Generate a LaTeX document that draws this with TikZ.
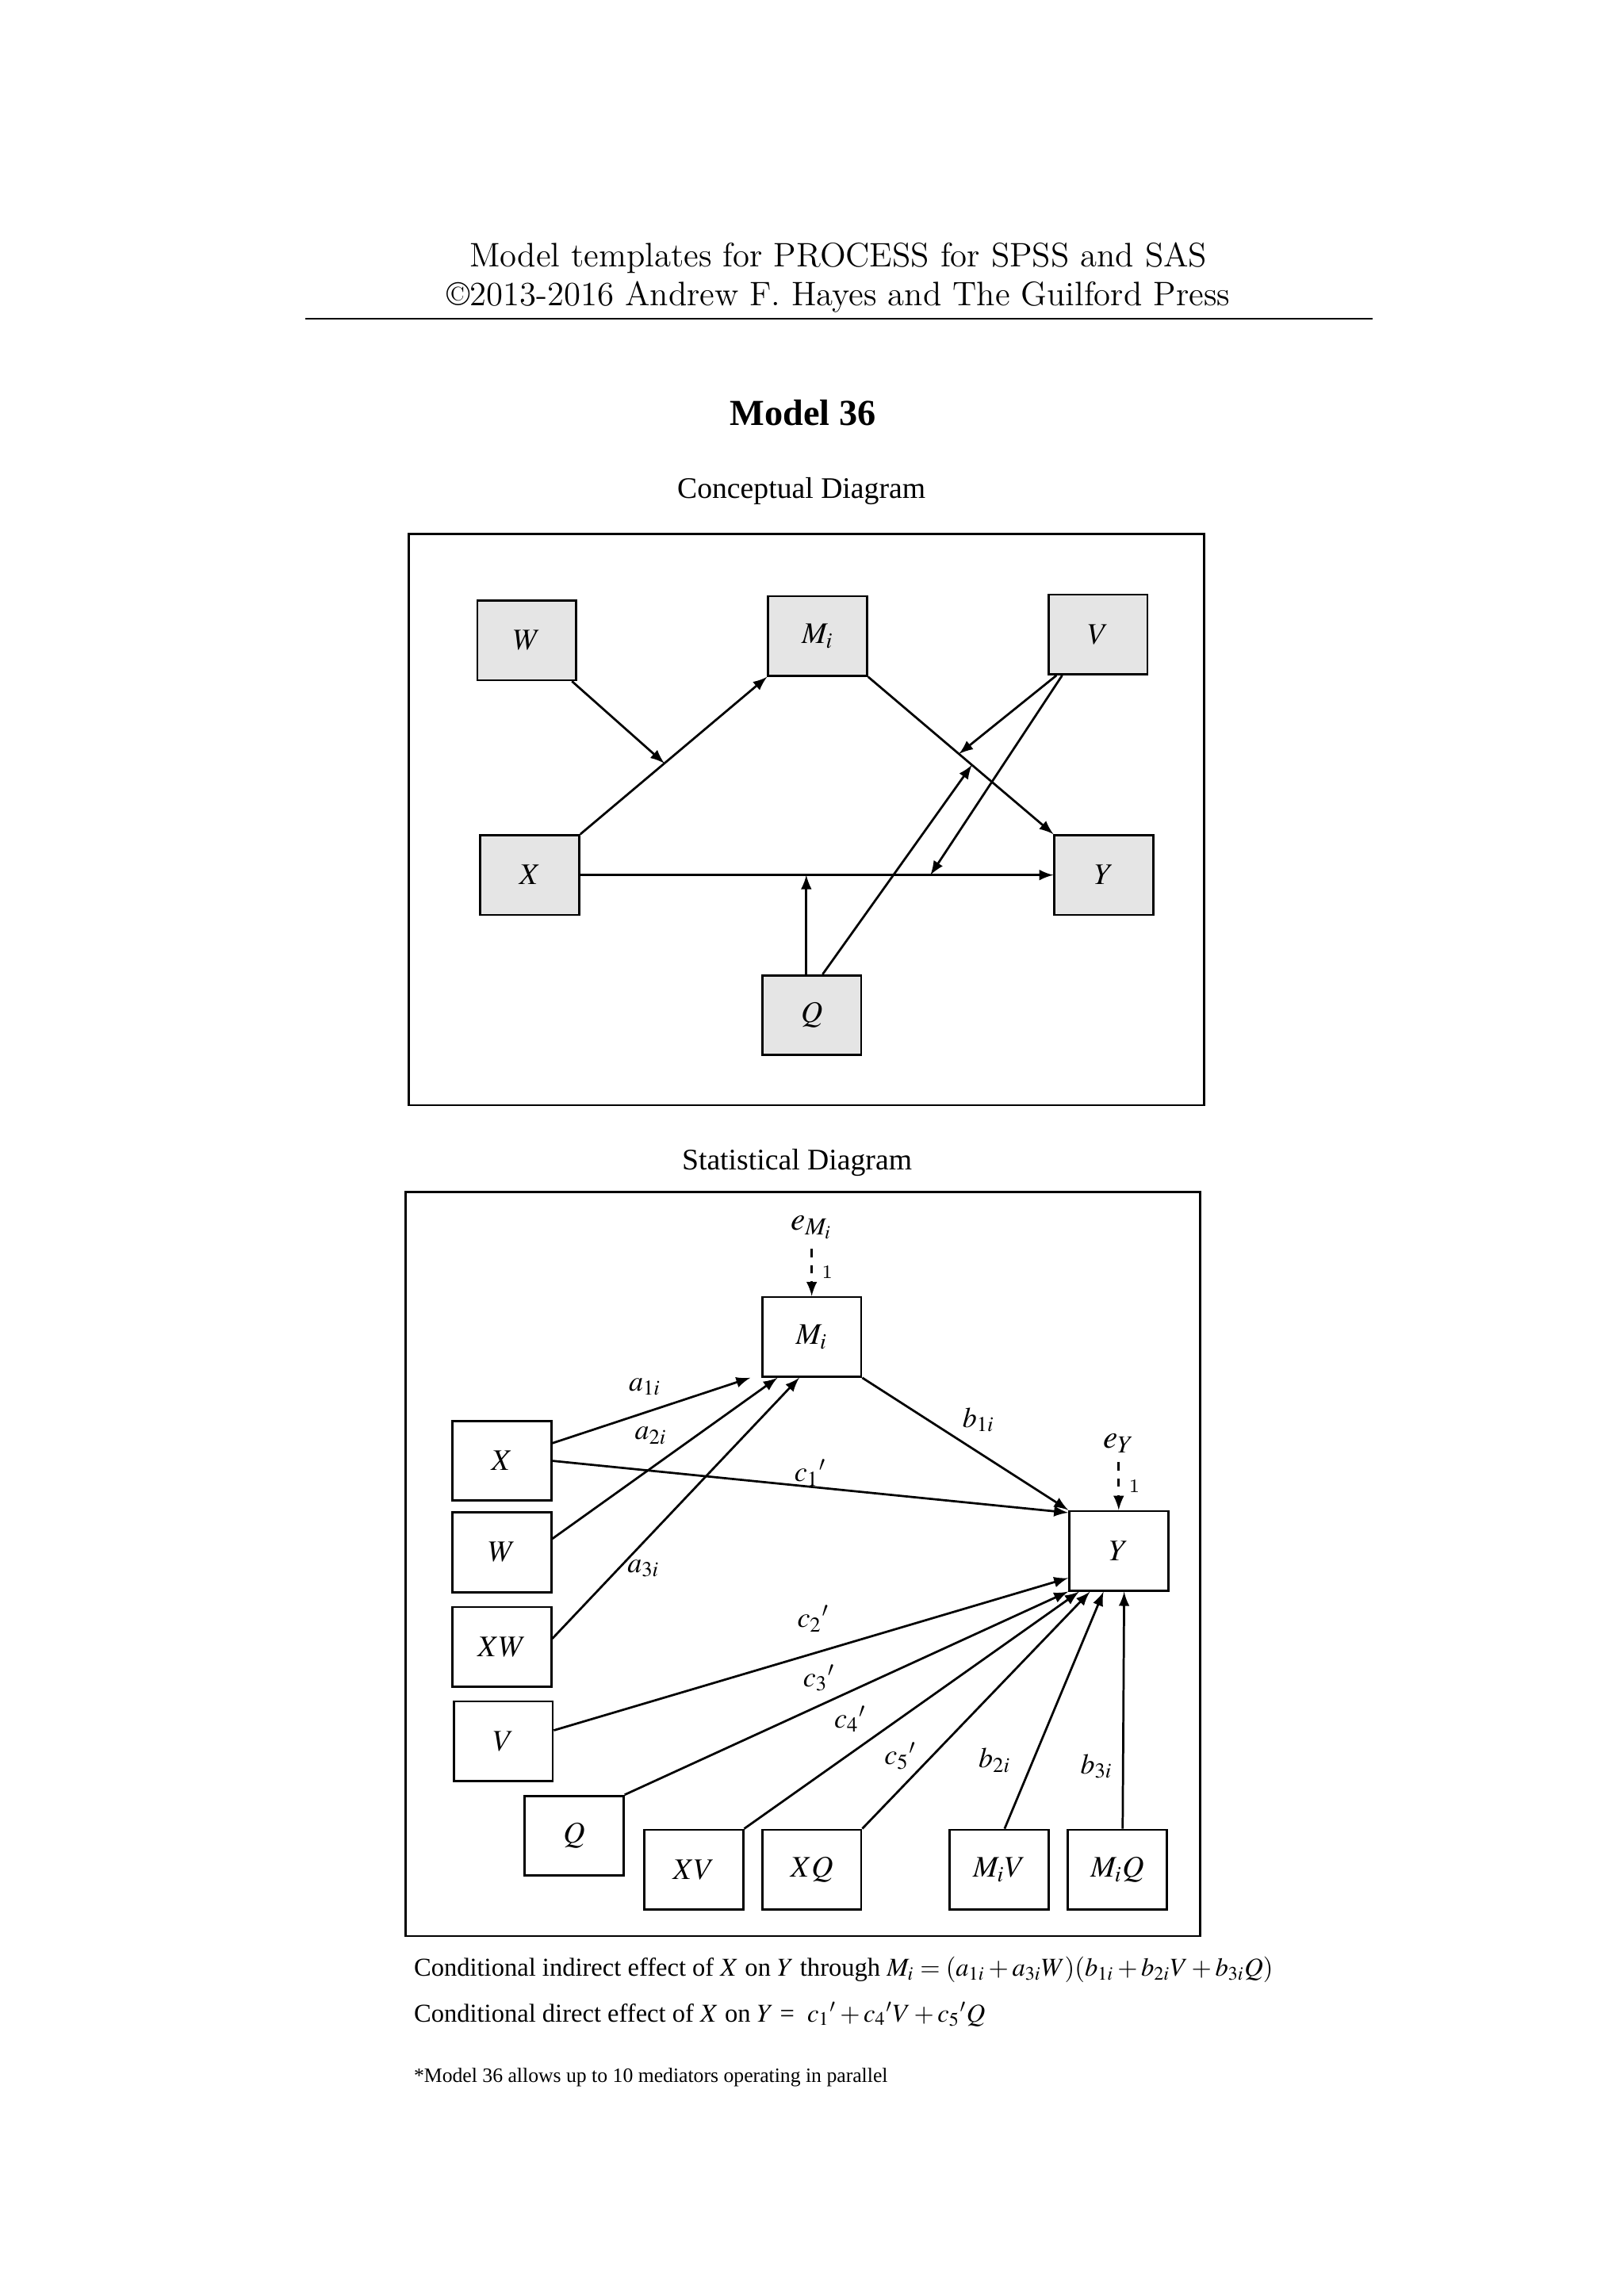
\documentclass[tikz,border=0pt]{standalone}
\usepackage{mathptmx}
\usepackage[no-math]{fontspec}
\newfontfamily\tnr{Liberation Serif}
\usetikzlibrary{positioning}
\tikzset{
  var/.style={draw, thick, minimum width=36.4pt, minimum height=29.3pt, inner sep=0pt, font=\tnr\fontsize{11}{13}\selectfont},
  cvar/.style={var, fill=gray!20},
  path/.style={thick, -latex},
  err/.style={thick, dashed, -latex},
  lab/.style={font=\tnr\fontsize{10.5}{12}\selectfont}}

\begin{document}
\begin{tikzpicture}[x=0.01909cm, y=-0.01909cm]
        \useasboundingbox (0,0) rectangle (1100,1556);

        % header
        \node (h1) at (568,175) {\fontsize{12.5}{15}\selectfont Model templates for PROCESS for SPSS and SAS};
        \node (h2) at (568,201) {\fontsize{12.5}{15}\selectfont \textcopyright2013-2016 Andrew F. Hayes and The Guilford Press};
        \draw (207,216) -- (930,216);
        \node[font=\tnr\bfseries\fontsize{13.5}{16}\selectfont] (title) at (544,280) {Model 36};

        % conceptual diagram
        \node[lab, font=\tnr\fontsize{11}{13}\selectfont] (ctitle) at (543,333) {Conceptual Diagram};
        \draw[thick] (277,362) rectangle (816,749);
        \node[cvar] (cW) at (357,434) {$W$};
        \node[cvar] (cM) at (554,431) {$M_i$};
        \node[cvar] (cV) at (744,430) {$V$};
        \node[cvar] (cX) at (359,593) {$X$};
        \node[cvar] (cY) at (748,593) {$Y$};
        \node[cvar] (cQ) at (550,688) {$Q$};

        \draw[path] (cX.north east) -- (cM.south west) coordinate[pos=0.45] (xm);
        \draw[path] (cM.south east) -- (cY.north west) coordinate[pos=0.49] (my1) coordinate[pos=0.56] (my2);
        \draw[path] (cX) -- (cY) coordinate[pos=0.74] (xy1);
        \draw[path] ([xshift=-2pt]cW.south east) -- (xm);
        \draw[path] ([xshift=3.3pt]cV.south west) -- (my1);
        \draw[path] ([xshift=5.4pt]cV.south west) -- (xy1);
        \draw[path] ([xshift=-2pt]cQ.north) -- ([xshift=-2pt]cQ.north |- cX);
        \draw[path] ([xshift=4pt]cQ.north) -- (my2);

        % statistical diagram
        \node[lab, font=\tnr\fontsize{11}{13}\selectfont] (stitle) at (540,788) {Statistical Diagram};
        \draw[thick] (275,808) rectangle (813,1312);
        \node[var] (M) at (550,906) {$M_i$};
        \node[var] (Y) at (758,1051) {$Y$};
        \node[var] (X) at (340,990) {$X$};
        \node[var] (W) at (340,1052) {$W$};
        \node[var] (XW) at (340,1116) {$XW$};
        \node[var] (V) at (341,1180) {$V$};
        \node[var] (Q) at (389,1244) {$Q$};
        \node[var] (XV) at (470,1267) {$XV$};
        \node[var] (XQ) at (550,1267) {$XQ$};
        \node[var] (MV) at (677,1267) {$M_i V$};
        \node[var] (MQ) at (757,1267) {$M_i Q$};

        \node[lab, font=\fontsize{12}{14}\selectfont] (eM) at (550,832) {$e_{M_i}$};
        \draw[err] (eM) -- (M) node[pos=0.5, right, font=\fontsize{7}{8}\selectfont] {1};
        \node[lab, font=\fontsize{12}{14}\selectfont] (eY) at (758,978) {$e_Y$};
        \draw[err] (eY) -- (Y) node[pos=0.5, right, font=\fontsize{7}{8}\selectfont] {1};

        \draw[path] ([yshift=6.5pt]X.east) -- ([xshift=-4pt]M.south west);
        \draw[path] ([yshift=5pt]W.east) -- ([xshift=6pt]M.south west);
        \draw[path] ([yshift=3pt]XW.east) -- ([xshift=14pt]M.south west);
        \draw[path] (X.east) -- ([yshift=-1pt]Y.north west);
        \draw[path] (M.south east) -- (Y.north west);
        \draw[path] ([yshift=4pt]V.east) -- ([yshift=-10pt]Y.west);
        \draw[path] (Q.north east) -- ([yshift=-15pt]Y.west);
        \draw[path] (XV.north east) -- ([xshift=4pt]Y.south west);
        \draw[path] (XQ.north east) -- ([xshift=8pt]Y.south west);
        \draw[path] ([xshift=2pt]MV.north) -- ([xshift=13pt]Y.south west);
        \draw[path] ([xshift=2pt]MQ.north) -- ([xshift=2pt]Y.south);

        \node[lab] (a1) at (437,940) {$a_{1i}$};
        \node[lab] (a2) at (441,973) {$a_{2i}$};
        \node[lab] (a3) at (436,1063) {$a_{3i}$};
        \node[lab] (b1) at (663,962) {$b_{1i}$};
        \node[lab] (c1) at (549,998) {$c_1{}'$};
        \node[lab] (c2) at (551,1097) {$c_2{}'$};
        \node[lab] (c3) at (555,1137) {$c_3{}'$};
        \node[lab] (c4) at (576,1165) {$c_4{}'$};
        \node[lab] (c5) at (610,1190) {$c_5{}'$};
        \node[lab] (b2) at (674,1193) {$b_{2i}$};
        \node[lab] (b3) at (743,1197) {$b_{3i}$};

        % effects
        \node[lab, anchor=west, font=\tnr\fontsize{9.5}{11}\selectfont] (ind) at (274,1335) {Conditional indirect effect of $X$ on $Y$ through $M_i = (a_{1i} + a_{3i}W)(b_{1i} + b_{2i}V + b_{3i}Q)$};
        \node[lab, anchor=west, font=\tnr\fontsize{9.5}{11}\selectfont] (dir) at (274,1365) {Conditional direct effect of $X$ on $Y$ = \ $c_1{}' + c_4{}'V + c_5{}'Q$};
        \node[lab, anchor=west, font=\tnr\fontsize{7.5}{9}\selectfont] (note) at (274,1408) {*Model 36 allows up to 10 mediators operating in parallel};
\end{tikzpicture}
\end{document}
